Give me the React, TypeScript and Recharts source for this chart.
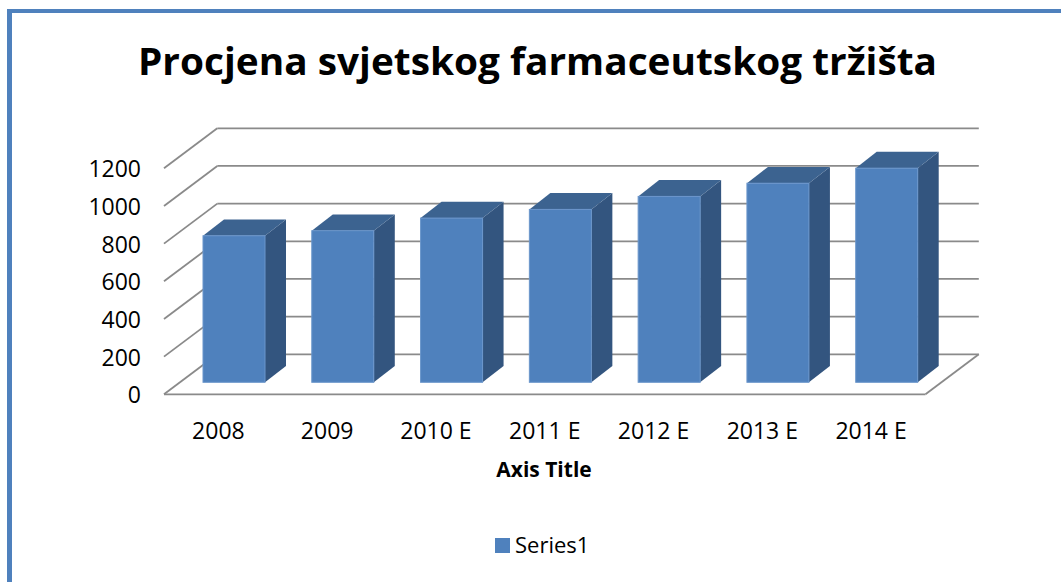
import React from 'react';
import { BarChart, Bar, XAxis, YAxis, CartesianGrid } from 'recharts';

// ---- data ----
const categories = ['2008', '2009', '2010 E', '2011 E', '2012 E', '2013 E', '2014 E'];
const series1 = [778, 805, 872, 918, 987, 1057, 1137];
const yTicks = [0, 200, 400, 600, 800, 1000, 1200];
const seriesName = 'Series1';
const chartTitle = 'Procjena svjetskog farmaceutskog tržišta';
const xAxisTitle = 'Axis Title';

const data = categories.map((c, i) => ({ category: c, value: series1[i] }));

// ---- layout ----
const W = 1061;
const H = 582;
const PLOT_LEFT = 180;
const PLOT_RIGHT = 941.5;
const PLOT_TOP = 156.3;
const PLOT_BOTTOM = 382.3;
const Y_AXIS_W = 60;
const X_AXIS_H = 30;
const FRONT = { dx: -16, dy: 12 };
const BACK = { dx: 37.3, dy: -28 };
const DEPTH = { dx: 21, dy: -16.3 };
const FONT = '"Open Sans", "Noto Sans", sans-serif';
const GRID = '#8a8a8a';
const BLUE = '#4F81BD';

const renderGridLine = (props: any) => {
  const { x1, x2, y1, index } = props;
  const isFloor = Math.abs(y1 - PLOT_BOTTOM) < 1;
  const common = { stroke: GRID, strokeWidth: 1.8, fill: 'none' };
  return (
    <g key={`grid-${index}-${y1}`}>
      <line x1={x1 + FRONT.dx} y1={y1 + FRONT.dy} x2={x1 + BACK.dx} y2={y1 + BACK.dy} {...common} />
      <line x1={x1 + BACK.dx} y1={y1 + BACK.dy} x2={x2 + BACK.dx} y2={y1 + BACK.dy} {...common} />
      {isFloor && (
        <>
          <line x1={x1 + FRONT.dx} y1={y1 + FRONT.dy} x2={x2 + FRONT.dx} y2={y1 + FRONT.dy} {...common} />
          <line x1={x2 + FRONT.dx} y1={y1 + FRONT.dy} x2={x2 + BACK.dx} y2={y1 + BACK.dy} {...common} />
        </>
      )}
    </g>
  );
};

const Bar3D = (props: any) => {
  const { x, y, width, height } = props;
  if (!height || height <= 0) return null;
  const dx = DEPTH.dx;
  const dy = DEPTH.dy;
  return (
    <g>
      <polygon
        points={`${x + width},${y} ${x + width + dx},${y + dy} ${x + width + dx},${y + height + dy} ${x + width},${y + height}`}
        fill="#33557f"
      />
      <polygon
        points={`${x},${y} ${x + dx},${y + dy} ${x + width + dx},${y + dy} ${x + width},${y}`}
        fill="#3c6390"
      />
      <rect x={x} y={y} width={width} height={height} fill={BLUE} stroke="#6a95cb" strokeWidth={1} />
    </g>
  );
};

const YTick = (props: any) => {
  const { y, payload } = props;
  return (
    <text x={PLOT_LEFT + FRONT.dx - 23} y={y + FRONT.dy + 9} textAnchor="end" fontFamily={FONT} fontSize={23} fill="#000">
      {payload.value}
    </text>
  );
};

const XTick = (props: any) => {
  const { x, payload } = props;
  return (
    <text x={x + FRONT.dx} y={PLOT_BOTTOM + 57} textAnchor="middle" fontFamily={FONT} fontSize={23} fill="#000">
      {payload.value}
    </text>
  );
};

export default function App() {
  return (
    <div style={{ position: 'absolute', left: 0, top: 0, width: W, height: H, background: '#fff', overflow: 'hidden' }}>
      <div
        style={{
          position: 'absolute',
          left: 7,
          top: 9,
          width: W,
          height: H,
          borderLeft: `5px solid ${BLUE}`,
          borderTop: `4px solid ${BLUE}`,
        }}
      />
      <div style={{ position: 'absolute', left: 0, top: 0 }}>
        <BarChart
          width={W}
          height={H}
          data={data}
          margin={{
            top: PLOT_TOP,
            right: W - PLOT_RIGHT,
            left: PLOT_LEFT - Y_AXIS_W,
            bottom: H - PLOT_BOTTOM - X_AXIS_H,
          }}
        >
          <CartesianGrid vertical={false} horizontal={renderGridLine} />
          <XAxis
            dataKey="category"
            axisLine={false}
            tickLine={false}
            height={X_AXIS_H}
            interval={0}
            tick={XTick}
          />
          <YAxis
            domain={[0, 1200]}
            ticks={yTicks}
            interval={0}
            axisLine={false}
            tickLine={false}
            width={Y_AXIS_W}
            tick={YTick}
          />
          <Bar dataKey="value" name={seriesName} barSize={62} fill={BLUE} shape={Bar3D} isAnimationActive={false} />
        </BarChart>
      </div>
      <svg width={W} height={H} style={{ position: 'absolute', left: 0, top: 0, pointerEvents: 'none' }}>
        <text
          x={138}
          y={75}
          fontFamily={FONT}
          fontWeight="bold"
          fontSize={38}
          textLength={799}
          lengthAdjust="spacingAndGlyphs"
          fill="#000"
        >
          {chartTitle}
        </text>
        <text x={544} y={477} textAnchor="middle" fontFamily={FONT} fontWeight="bold" fontSize={21} fill="#000">
          {xAxisTitle}
        </text>
        <rect x={495} y={538} width={15} height={15} fill={BLUE} />
        <text x={515} y={553} fontFamily={FONT} fontSize={22} fill="#000">
          {seriesName}
        </text>
      </svg>
    </div>
  );
}
